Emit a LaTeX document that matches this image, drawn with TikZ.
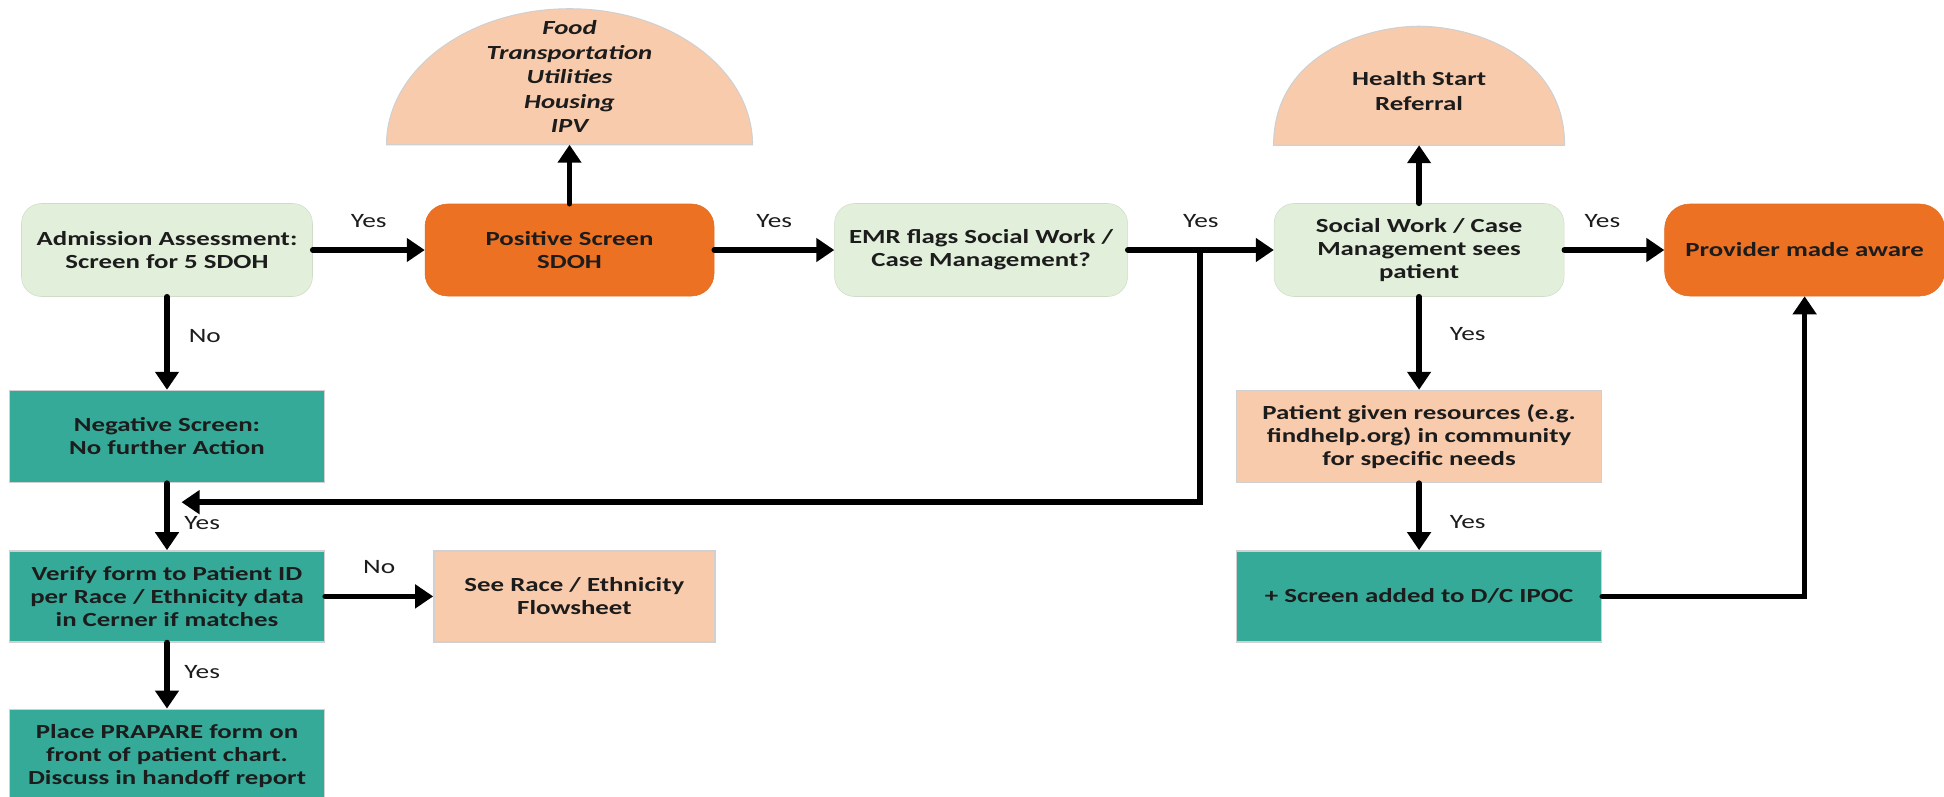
\documentclass[tikz,border=0pt]{standalone}
\usepackage{fontspec}
\setmainfont{Carlito}[FakeStretch=1.34]
\usetikzlibrary{positioning, arrows.meta, calc}
\definecolor{boxgreen}{HTML}{E2EFDA}
\definecolor{boxorange}{HTML}{EC7123}
\definecolor{boxteal}{HTML}{36AA99}
\definecolor{boxpeach}{HTML}{F8CBAD}
\definecolor{boxedge}{HTML}{D0D0D0}
\definecolor{textdark}{HTML}{1C1C1C}
\newcommand{\flowfont}{\fontsize{11.4}{13.1}\selectfont\bfseries}
\newcommand{\domefont}{\fontsize{11.4}{14}\selectfont\bfseries}
\newcommand{\answerfont}{\fontsize{11.6}{13}\selectfont}
\tikzset{
  greenbox/.style={rectangle, rounded corners=0.4cm, minimum width=5.82cm, minimum height=1.86cm, inner sep=0pt, align=center, fill=boxgreen, draw=boxgreen!92!black, line width=0.3pt, font=\flowfont},
  orangebox/.style={rectangle, rounded corners=0.45cm, minimum width=5.78cm, minimum height=1.84cm, inner sep=0pt, align=center, fill=boxorange, draw=boxorange!95!black, line width=0.3pt, font=\flowfont},
  tealbox/.style={rectangle, minimum width=6.3cm, minimum height=1.84cm, inner sep=0pt, align=center, fill=boxteal, draw=boxedge, line width=0.8pt, font=\flowfont},
  peachbox/.style={rectangle, minimum width=5.62cm, minimum height=1.82cm, inner sep=0pt, align=center, fill=boxpeach, draw=boxedge, line width=0.8pt, font=\flowfont},
  dome/.style={fill=boxpeach, draw=boxedge, line width=0.6pt},
  domelabel/.style={align=center, inner sep=0pt, font=\domefont},
  answer/.style={inner sep=0pt, font=\answerfont},
  arrow/.style={line width=3.2pt, line cap=round, -{Triangle[length=0.36cm,width=0.46cm]}}
}
\begin{document}
\begin{tikzpicture}[every node/.style={text=textdark}]
  \useasboundingbox (0,0) rectangle (38.88,-15.92);
  % top row
  \node (adm) [greenbox] at (3.34,-5.0) {Admission Assessment:\\Screen for 5 SDOH};
  \node (pos) [orangebox, right=2.24cm of adm] {Positive Screen\\SDOH};
  \node (emr) [greenbox, minimum width=5.86cm, right=2.4cm of pos] {EMR flags Social Work /\\Case Management?};
  \node (sw) [greenbox, minimum width=5.8cm, right=2.92cm of emr] {Social Work / Case\\Management sees\\patient};
  \node (prov) [orangebox, minimum width=5.6cm, rounded corners=0.5cm, right=2cm of sw] {Provider made aware};

  % domes above the row
  \coordinate [above=1.18cm of pos] (foodbase);
  \draw [dome] ($(foodbase)+(-3.66,0)$) arc[start angle=180, end angle=0, x radius=3.66cm, y radius=2.72cm] -- cycle;
  \node (food) [domelabel] at ($(foodbase)+(0,1.36)$) {\itshape Food\\\itshape Transportation\\\itshape Utilities\\\itshape Housing\\\itshape IPV};
  \coordinate [above=1.16cm of sw] (hsbase);
  \draw [dome] ($(hsbase)+(-2.91,0)$) .. controls +(0,1.85) and +(-1.0,0) .. ($(hsbase)+(0,2.38)$)
    .. controls +(1.0,0) and +(0,1.85) .. ($(hsbase)+(2.91,0)$) -- cycle;
  \node (hs) [domelabel] at ($(hsbase)+(0,1.08)$) {Health Start\\Referral};

  % left column
  \node (neg) [tealbox, below=1.86cm of adm] {Negative Screen:\\No further Action};
  \node (ver) [tealbox, minimum height=1.82cm, below=1.34cm of neg] {Verify form to Patient ID\\per Race / Ethnicity data\\in Cerner if matches};
  \node (prap) [tealbox, minimum height=1.86cm, below=1.32cm of ver] {Place PRAPARE form on\\front of patient chart.\\Discuss in handoff report};
  \node (see) [peachbox, right=2.16cm of ver] {See Race / Ethnicity\\Flowsheet};

  % right column
  \node (pat) [peachbox, minimum width=7.3cm, minimum height=1.84cm, below=1.86cm of sw] {Patient given resources (e.g.\\findhelp.org) in community\\for specific needs};
  \node (scr) [tealbox, minimum width=7.3cm, minimum height=1.82cm, below=1.34cm of pat] {+ Screen added to D/C IPOC};

  \coordinate (jn) at ($(emr.east)+(1.44,0)$);
  \coordinate (back) at ($(neg.south)+(0.29,-0.38)$);

  \draw [arrow] (adm) -- node[answer, above=0.4cm] {Yes} (pos);
  \draw [arrow] (pos) -- (foodbase);
  \draw [arrow] (pos) -- node[answer, above=0.4cm] {Yes} (emr);
  \draw [arrow] (emr) -- node[answer, above=0.4cm] {Yes} (sw);
  \draw [arrow] (sw) -- (hsbase);
  \draw [arrow] (sw) -- node[answer, above=0.4cm, pos=0.38] {Yes} (prov);
  \draw [arrow] (adm) -- node[answer, right=0.38cm, pos=0.42] {No} (neg);
  \draw [arrow] (jn) |- (back);
  \draw [arrow] (neg) -- node[answer, right=0.29cm, pos=0.6] {Yes} (ver);
  \draw [arrow] (ver) -- node[answer, above=0.4cm] {No} (see);
  \draw [arrow] (ver) -- node[answer, right=0.29cm, pos=0.44] {Yes} (prap);
  \draw [arrow] (sw) -- node[answer, right=0.56cm, pos=0.4] {Yes} (pat);
  \draw [arrow] (pat) -- node[answer, right=0.56cm, pos=0.58] {Yes} (scr);
  \draw [arrow] (scr) -| (prov);
\end{tikzpicture}
\end{document}
